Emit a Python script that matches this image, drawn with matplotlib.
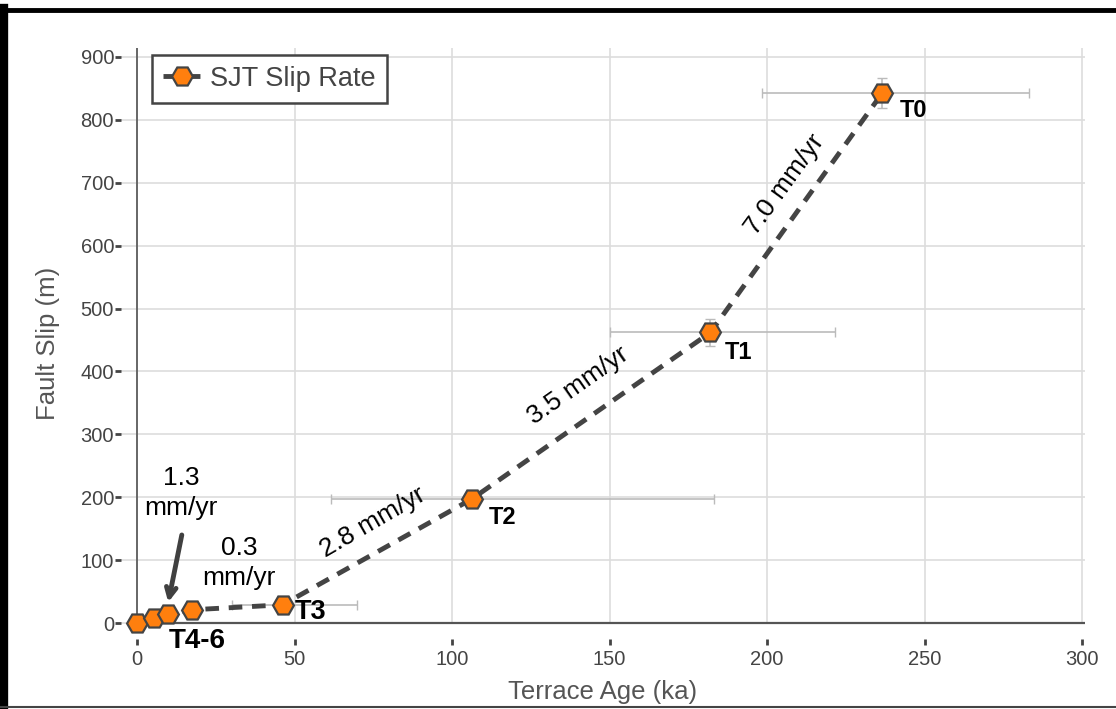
import matplotlib
matplotlib.use("Agg")
import matplotlib.pyplot as plt
from matplotlib.lines import Line2D

plt.rcParams['font.family'] = ['Liberation Sans', 'DejaVu Sans']

# terrace ages (ka) and fault slip (m), oldest last
age = [0, 5.5, 9.8, 17.3, 46.2, 106.2, 182.0, 236.6]
slip = [0, 8, 14, 21, 29, 197, 462, 843]
age_lo = [0, 0, 0, 0, 16, 44.5, 32, 38.2]
age_hi = [0, 0, 0, 0, 23.5, 77, 39.4, 46.4]
slip_err = [0, 0, 0, 0, 0, 0, 22, 24]

terrace_names = ['T0', 'T1', 'T2', 'T3', 'T4-6']
terrace_pos = [(246.5, 815), (191, 430), (116, 167), (55, 18), (19, -29)]
terrace_size = [17, 17, 17, 19.5, 20]

rates = ['7.0 mm/yr', '3.5 mm/yr', '2.8 mm/yr', '1.3\nmm/yr', '0.3\nmm/yr']
rate_pos = [(205.5, 697), (140, 378), (74.8, 160), (14, 207), (32.4, 95)]
rate_angle = [54, 35, 30, 0, 0]

xticks = [0, 50, 100, 150, 200, 250, 300]
yticks = [0, 100, 200, 300, 400, 500, 600, 700, 800, 900]
xmin, xmax = -5.1, 300.9
ymin, ymax = -25.4, 914.3

fig = plt.figure(figsize=(11.16, 7.09), dpi=100)
ax = fig.add_axes([121/1116, 70/709, 964/1116, 591/709])
ax.set_xlim(xmin, xmax)
ax.set_ylim(ymin, ymax)
for s in ax.spines.values():
    s.set_visible(False)

# grid: horizontal lines span the full width, vertical ones start at zero
ax.hlines(yticks, xmin, xmax, color='#dddddd', lw=1.2, zorder=0)
ax.vlines(xticks[1:], 0, ymax, color='#dddddd', lw=1.2, zorder=0)
ax.plot([0, xmax], [0, 0], color='#555555', lw=1.6, zorder=1)
ax.plot([0, 0], [0, ymax], color='#666666', lw=1.4, zorder=1)

ax.set_xticks(xticks)
ax.set_yticks(yticks)
ax.tick_params(axis='both', direction='out', length=4, width=2, color='#444444',
               labelcolor='#444444', labelsize=14.5)
ax.tick_params(axis='x', pad=4)
ax.tick_params(axis='y', pad=1)

ax.errorbar(age, slip, xerr=[age_lo, age_hi], yerr=slip_err, fmt='none',
            ecolor='#bbbbbb', elinewidth=1.2, capsize=3.5, zorder=2)
ax.plot(age, slip, ls='--', dashes=(2.8, 2.0), color='#444444', lw=3.5,
        marker='H', ms=15, mfc='#ff7f0e', mec='#444444', mew=1.6,
        label='SJT Slip Rate', zorder=3, clip_on=False)

for name, (tx, ty), fs in zip(terrace_names, terrace_pos, terrace_size):
    ax.text(tx, ty, name, fontsize=fs, fontweight='bold', ha='center',
            va='center', color='black', zorder=4)

for txt, (tx, ty), ang in zip(rates, rate_pos, rate_angle):
    ax.text(tx, ty, txt, fontsize=19, ha='center', va='center', rotation=ang,
            rotation_mode='anchor', multialignment='center', linespacing=1.3,
            color='black', zorder=4)

ax.annotate('', xy=(9.9, 33), xytext=(14.2, 140),
            arrowprops=dict(arrowstyle='->,head_length=0.7,head_width=0.35',
                            color='#404040', lw=3.5, shrinkA=0, shrinkB=0),
            zorder=4)

ax.set_xlabel('Terrace Age (ka)', fontsize=18.5, color='#555555', labelpad=8)
ax.set_ylabel('Fault Slip (m)', fontsize=18.5, color='#555555', labelpad=15)

leg = ax.legend(loc='upper left', bbox_to_anchor=(0.032, 0.988), borderaxespad=0,
                fontsize=19.5, fancybox=False, framealpha=1, handlelength=1.45,
                handletextpad=0.3, borderpad=0.4, labelcolor='#444444')
leg.get_frame().set_edgecolor('#444444')
leg.get_frame().set_linewidth(1.8)

# frame around the figure
fig.add_artist(Line2D([0, 1], [1 - 10/709, 1 - 10/709], color='black', lw=3.5))
fig.add_artist(Line2D([4/1116, 4/1116], [0, 1 - 8/709], color='black', lw=6))
fig.add_artist(Line2D([0, 1], [2/709, 2/709], color='#444444', lw=1.5))

fig.savefig('out.png', dpi=100)
